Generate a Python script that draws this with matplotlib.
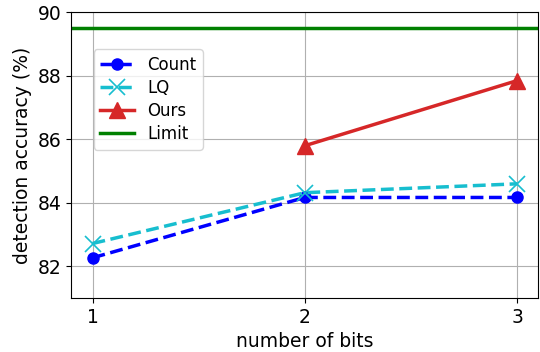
import numpy as np
import matplotlib.pyplot as plt

bits = [1, 2, 3]
count_acc = [82.27, 84.17, 84.17]
lq_acc = [82.72, 84.32, 84.6]
ours_bits = [2, 3]
ours_acc = [85.8, 87.85]
limit_acc = 89.5

fig, ax = plt.subplots(figsize=(5.4, 3.52), dpi=100)
ax.plot(bits, count_acc, '--', color='blue', marker='o', markersize=8, linewidth=2.5, label='Count')
ax.plot(bits, lq_acc, '--', color='tab:cyan', marker='x', markersize=12, markeredgewidth=1.2, linewidth=2.5, label='LQ')
ax.plot(ours_bits, ours_acc, '-', color='tab:red', marker='^', markersize=12, linewidth=2.5, label='Ours')
ax.axhline(limit_acc, color='green', linewidth=2.5, label='Limit')

ax.set_xlim(0.9, 3.1)
ax.set_ylim(81, 90)
ax.set_xticks(bits)
ax.set_yticks([82, 84, 86, 88, 90])
ax.tick_params(labelsize=13.5)
ax.set_xlabel('number of bits', fontsize=13.5)
ax.set_ylabel('detection accuracy (%)', fontsize=13.5)
ax.grid(True)
ax.legend(loc='upper left', bbox_to_anchor=(0.03, 0.9), fontsize=12, labelspacing=0.3)

fig.subplots_adjust(left=0.132, right=0.997, top=0.965, bottom=0.153)
fig.savefig('out.png')
